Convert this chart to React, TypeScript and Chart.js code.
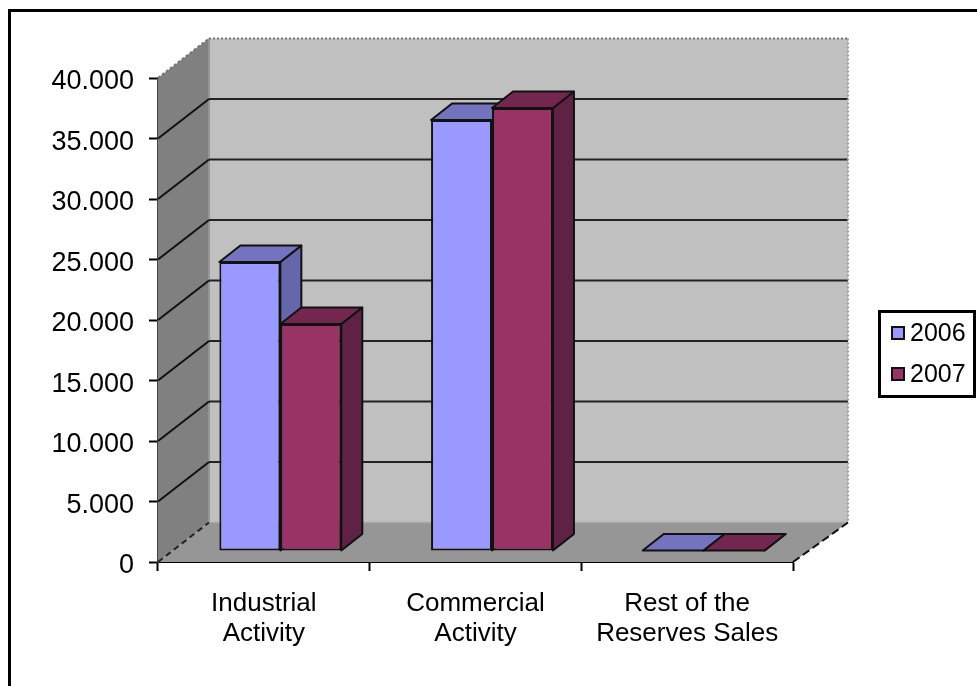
import React, { useEffect, useRef } from "react";
import { Chart, registerables } from "chart.js";

Chart.register(...registerables);

const categories = [
  ["Industrial", "Activity"],
  ["Commercial", "Activity"],
  ["Rest of the", "Reserves Sales"],
];
const values2006 = [23880, 35620, 40];
const values2007 = [18760, 36610, 40];
const seriesNames = ["2006", "2007"];
const fillColors = ["#9999ff", "#993366"];
const topColors = ["#7373bf", "#732650"];
const sideColors = ["#6666aa", "#5f2244"];

const FONT = '"Liberation Sans", Arial, sans-serif';

// Oblique projection used for the room and for the bar solids.
const ROOM_DX = 51;
const ROOM_DY = -39.5;
const BAR_SHIFT_X = 16.5;
const BAR_SHIFT_Y = -11;
const BAR_DX = 21;
const BAR_DY = -16.5;

function poly(ctx: CanvasRenderingContext2D, pts: number[][], fill?: string, stroke?: string, lw = 2) {
  ctx.beginPath();
  pts.forEach(([x, y], i) => (i ? ctx.lineTo(x, y) : ctx.moveTo(x, y)));
  ctx.closePath();
  if (fill) {
    ctx.fillStyle = fill;
    ctx.fill();
  }
  if (stroke) {
    ctx.strokeStyle = stroke;
    ctx.lineWidth = lw;
    ctx.lineJoin = "round";
    ctx.stroke();
  }
}

function segment(ctx: CanvasRenderingContext2D, x0: number, y0: number, x1: number, y1: number, color: string, lw: number, dash: number[] = []) {
  ctx.beginPath();
  ctx.setLineDash(dash);
  ctx.moveTo(x0, y0);
  ctx.lineTo(x1, y1);
  ctx.strokeStyle = color;
  ctx.lineWidth = lw;
  ctx.stroke();
  ctx.setLineDash([]);
}

const roomPlugin = {
  id: "room",
  beforeDraw(chart: any) {
    const { ctx } = chart;
    ctx.save();
    // Frame around the whole sheet, running off the right and bottom edges.
    ctx.strokeStyle = "#000";
    ctx.lineWidth = 3;
    ctx.strokeRect(9.5, 10.5, 1200, 1200);
    ctx.restore();
  },
  beforeDatasetsDraw(chart: any) {
    const { ctx, chartArea: a, scales } = chart;
    const yTicks = scales.y.ticks;
    const L = a.left;
    const R = a.right;
    const T = a.top;
    const B = a.bottom;
    const bx = ROOM_DX;
    const by = ROOM_DY;
    ctx.save();
    // back wall, left wall, floor
    poly(ctx, [[L + bx, T + by], [R + bx + 4, T + by], [R + bx + 4, B + by], [L + bx, B + by]], "#c0c0c0");
    poly(ctx, [[L, T], [L + bx, T + by], [L + bx, B + by], [L, B]], "#808080");
    poly(ctx, [[L, B], [L + bx, B + by], [R + bx + 4, B + by], [R, B]], "#969696");
    segment(ctx, L + bx, T + by, L + bx, B + by, "#969696", 2);
    segment(ctx, L + bx, B + by, R + bx + 4, B + by, "#a8a8a8", 1.5);
    // gridlines fold from the left wall onto the back wall
    for (const t of yTicks) {
      const y = scales.y.getPixelForValue(t.value);
      if (t.value === 0 || t.value === scales.y.max) continue;
      segment(ctx, L, y, L + bx, y + by, "#111", 2);
      segment(ctx, L + bx, y + by, R + bx + 4, y + by, "#222", 2);
    }
    // room outline
    segment(ctx, L, T, L + bx, T + by, "#777", 2, [3, 2]);
    segment(ctx, L + bx, T + by, R + bx + 4, T + by, "#777", 2, [2, 2]);
    segment(ctx, R + bx + 4, T + by, R + bx + 4, B + by, "#999", 2, [2, 2]);
    segment(ctx, L, B, L + bx, B + by, "#222", 2, [6, 4]);
    segment(ctx, R, B, R + bx + 4, B + by, "#111", 2, [8, 4]);
    ctx.restore();
  },
  // The default pass is skipped so that later series overlap earlier ones.
  beforeDatasetDraw() {
    return false;
  },
  afterDatasetsDraw(chart: any) {
    const { ctx } = chart;
    ctx.save();
    ctx.translate(BAR_SHIFT_X, BAR_SHIFT_Y);
    chart.data.datasets.forEach((_: any, i: number) => {
      const meta = chart.getDatasetMeta(i);
      for (const bar of meta.data) {
        const left = bar.x - bar.width / 2;
        const right = bar.x + bar.width / 2;
        const top = bar.y;
        const base = bar.base;
        poly(ctx, [[right, top], [right + BAR_DX, top + BAR_DY], [right + BAR_DX, base + BAR_DY], [right, base]], sideColors[i], "#111", 2);
        poly(ctx, [[left, top], [left + BAR_DX, top + BAR_DY], [right + BAR_DX, top + BAR_DY], [right, top]], topColors[i], "#111", 2);
      }
      meta.controller.draw();
    });
    ctx.restore();
  },
  afterDraw(chart: any) {
    const { ctx } = chart;
    ctx.save();
    // legend panel
    ctx.fillStyle = "#fff";
    ctx.fillRect(879, 311, 96, 86);
    ctx.strokeStyle = "#000";
    ctx.lineWidth = 3;
    ctx.strokeRect(879.5, 311.5, 95, 85);
    ctx.font = `25px ${FONT}`;
    ctx.textBaseline = "middle";
    seriesNames.forEach((name, i) => {
      const cy = 333 + i * 41;
      ctx.fillStyle = fillColors[i];
      ctx.fillRect(892, cy - 6, 12, 12);
      ctx.strokeStyle = "#111";
      ctx.lineWidth = 2;
      ctx.strokeRect(892, cy - 6, 12, 12);
      ctx.fillStyle = "#000";
      ctx.fillText(name, 910, cy + 1);
    });
    ctx.restore();
  },
};

export default function App() {
  const ref = useRef<HTMLCanvasElement>(null);
  useEffect(() => {
    if (!ref.current) return;
    const chart = new Chart(ref.current, {
      type: "bar",
      data: {
        labels: categories as any,
        datasets: seriesNames.map((label, i) => ({
          label,
          data: i === 0 ? values2006 : values2007,
          backgroundColor: fillColors[i],
          borderColor: "#111",
          borderWidth: 2,
          borderSkipped: false,
          categoryPercentage: 0.576,
          barPercentage: 1,
        })),
      },
      options: {
        responsive: false,
        animation: false,
        layout: { padding: { left: 0, top: 78, right: 184, bottom: 0 } },
        plugins: { legend: { display: false }, tooltip: { enabled: false } },
        scales: {
          x: {
            afterFit(scale: any) {
              scale.height = 124;
            },
            border: { color: "#000", width: 2 },
            grid: { drawOnChartArea: false, tickColor: "#000", tickWidth: 2, tickLength: 9 },
            ticks: {
              color: "#000",
              padding: 18,
              maxRotation: 0,
              autoSkip: false,
              font: { family: FONT, size: 26, lineHeight: 1.15 },
            },
          },
          y: {
            min: 0,
            max: 40000,
            afterFit(scale: any) {
              scale.width = 158;
            },
            border: { color: "#444", width: 2 },
            grid: { drawOnChartArea: false, tickColor: "#000", tickWidth: 2, tickLength: 9 },
            ticks: {
              stepSize: 5000,
              color: "#000",
              padding: 15,
              labelOffset: 4,
              font: { family: FONT, size: 27 },
              callback: (v: any) => String(v).replace(/\B(?=(\d{3})+$)/g, "."),
            },
          },
        },
      } as any,
      plugins: [roomPlugin as any],
    });
    return () => chart.destroy();
  }, []);
  return <canvas ref={ref} width={977} height={686} style={{ position: "fixed", left: 0, top: 0, display: "block" }} />;
}
